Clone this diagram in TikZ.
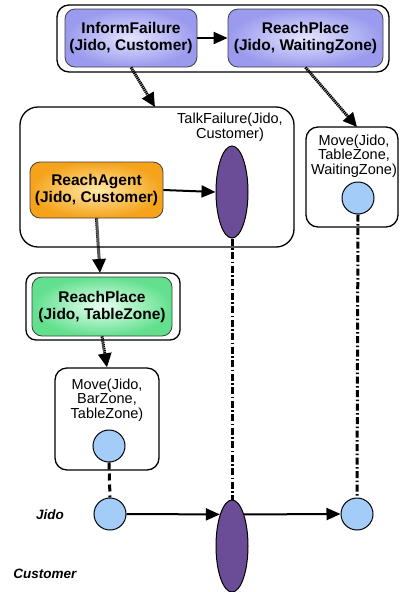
\documentclass[tikz,border=0pt]{standalone}
\usepackage{fontspec}
\setmainfont{Liberation Sans}
\usetikzlibrary{shapes.geometric,arrows.meta,calc}
\definecolor{bluein}{HTML}{E4E4FF}
\definecolor{blueout}{HTML}{9A9AEE}
\definecolor{orangein}{HTML}{FFE9A8}
\definecolor{orangeout}{HTML}{F5A31A}
\definecolor{greenin}{HTML}{EAFFF2}
\definecolor{greenout}{HTML}{62E08E}
\definecolor{purp}{HTML}{6B4C96}
\definecolor{lightblue}{HTML}{A3CDF8}
\begin{document}
\begin{tikzpicture}[x=1pt,y=-1pt,
  frame/.style={draw=black, line width=1.3pt, rounded corners=12pt, inner sep=0pt},
  taskbox/.style={draw=black!75, line width=0.8pt, rounded corners=10pt, inner sep=0pt, align=center,
    font=\fontsize{15.5}{17}\selectfont\bfseries},
  bluebox/.style={taskbox, shade, inner color=bluein, outer color=blueout},
  orangebox/.style={taskbox, shade, inner color=orangein, outer color=orangeout},
  greenbox/.style={taskbox, shade, inner color=greenin, outer color=greenout},
  lbl/.style={align=center, inner sep=0pt, font=\fontsize{14.5}{14.5}\selectfont},
  actor/.style={inner sep=0pt, font=\fontsize{13.5}{14}\selectfont\bfseries\itshape},
  joint/.style={ellipse, draw=black, line width=1pt, fill=purp, minimum width=32, minimum height=92, inner sep=0pt},
  state/.style={circle, draw=black, line width=1pt, fill=lightblue, minimum size=32, inner sep=0pt},
  solidarrow/.style={line width=2pt, -{Triangle[length=14pt,width=12pt]}},
  dotarrow/.style={line width=3pt, dash pattern=on 1.3pt off 0.7pt, -{Triangle[length=14pt,width=13pt]}},
  dashlink/.style={line width=3pt, dash pattern=on 7pt off 4pt},
  dashdot/.style={line width=3pt, dash pattern=on 7pt off 2.5pt on 1.5pt off 2.5pt},
]
\useasboundingbox (0,0) rectangle (403,592);

% frames
\node[frame, minimum width=332, minimum height=67] (topframe) at (223,38.5) {};
\node[frame, rounded corners=18pt, minimum width=274, minimum height=140] (talkframe) at (157,177) {};
\node[frame, minimum width=92, minimum height=100] (mover) at (352,177) {};
\node[frame, rounded corners=10pt, minimum width=154, minimum height=67] (rp2frame) at (103,306.5) {};
\node[frame, minimum width=104, minimum height=102] (movel) at (107,419) {};

% tasks
\node[bluebox, minimum width=132, minimum height=58] (inform) at (131,38) {InformFailure\\(Jido, Customer)};
\node[bluebox, minimum width=155, minimum height=58] (rp1) at (305.5,38) {ReachPlace\\(Jido, WaitingZone)};
\node[orangebox, minimum width=133, minimum height=56] (agent) at (96.5,190) {ReachAgent\\(Jido, Customer)};
\node[greenbox, minimum width=140, minimum height=59] (rp2) at (102,306.5) {ReachPlace\\(Jido, TableZone)};

% labels
\node[lbl] (talklbl) at (230,127) {TalkFailure(Jido,\\Customer)};
\node[lbl] (movertext) at (354,156) {Move(Jido,\\TableZone,\\WaitingZone)};
\node[lbl] (moveltext) at (107,400) {Move(Jido,\\BarZone,\\TableZone)};
\node[actor] (jidolbl) at (50,515) {Jido};
\node[actor] (custlbl) at (45,574) {Customer};

% states
\node[joint] (talk1) at (232,192) {};
\node[state] (sr) at (358,198) {};
\node[state] (sl) at (109,446) {};
\node[state] (j1) at (110,514) {};
\node[joint] (talk2) at (232,546) {};
\node[state] (j3) at (357,514) {};

% free ends
\coordinate (t1) at (155,107);
\coordinate (t2) at (357,127);
\coordinate (t3) at (100,273);

% connectors
\draw[solidarrow] (inform.east) -- (rp1.west);
\draw[solidarrow] (agent.east) -- (talk1.west);
\draw[dotarrow] (inform.south) -- (t1);
\draw[dotarrow] (rp1.south) -- (t2);
\draw[dotarrow] (agent.south) -- (t3);
\draw[dotarrow] (rp2.south) -- (movel.north);
\draw[dashlink] (sl.south) -- (j1.north);
\draw[dashdot] (talk1.south) -- (talk2.north);
\draw[dashdot] (sr.south) -- (j3.north);
\draw[solidarrow] (j1.east) -- (talk2.111);
\draw[solidarrow] (talk2.69) -- (j3.west);
\end{tikzpicture}
\end{document}
